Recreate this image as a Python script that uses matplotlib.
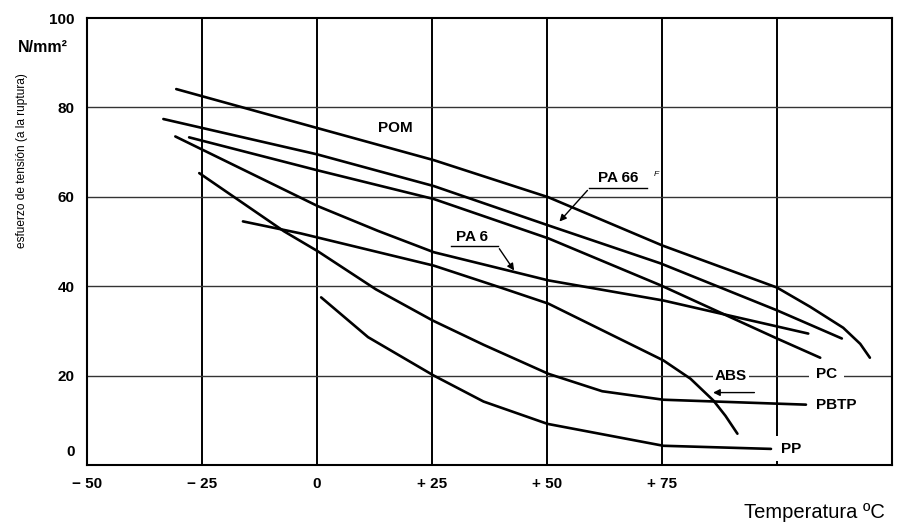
import matplotlib.pyplot as plt

plt.rcParams['font.family'] = ['Liberation Sans', 'DejaVu Sans']

# curves: temperature (C) and tensile stress at break (N/mm2)
pom_t = [-30.6, 0, 25.4, 50.3, 75.1, 100, 107.2, 114.4, 118.1, 120.2]
pom_s = [84.1, 75.4, 68.2, 59.9, 49.1, 39.7, 35.4, 30.7, 27.1, 24.0]

pa66_t = [-33.4, 0, 25.4, 50.3, 74.7, 100, 114.1]
pa66_s = [77.4, 69.5, 62.4, 53.6, 45.1, 34.6, 28.3]

pc_t = [-27.8, 0.2, 25.4, 50.3, 74.7, 100, 109.4]
pc_s = [73.3, 65.9, 59.5, 50.7, 40.2, 28.3, 24.0]

pa6_t = [-30.8, 0.2, 13.2, 25.4, 43.2, 50.3, 75.3, 100, 106.8]
pa6_s = [73.5, 57.9, 52.4, 47.6, 43.1, 41.3, 36.8, 31.0, 29.4]

abs_t = [-16.1, -3.5, 25.4, 39.9, 50.3, 75.3, 81.2, 86.2, 88.8, 91.4]
abs_s = [54.5, 51.8, 44.6, 39.7, 36.1, 23.4, 19.3, 14.4, 11.0, 7.0]

pbtp_t = [-25.6, -7.2, 0.2, 12.8, 25.2, 36.2, 50.3, 62.0, 75.3, 106.3]
pbtp_s = [65.3, 52.3, 47.8, 39.3, 32.3, 26.9, 20.4, 16.5, 14.6, 13.5]

pp_t = [0.9, 11.1, 25.4, 36.2, 50.1, 75.3, 98.7]
pp_s = [37.5, 28.6, 20.0, 14.2, 9.2, 4.3, 3.6]

x_grid = [-25, 0, 25, 50, 75, 100]
y_grid = [20, 40, 60, 80]
x_ticks = [-50, -25, 0, 25, 50, 75]
x_labels = ['\u2212 50', '\u2212 25', '0', '+ 25', '+ 50', '+ 75']
y_ticks = [3.2, 20, 40, 60, 80, 100]
y_labels = ['0', '20', '40', '60', '80', '100']

fig = plt.figure(figsize=(9.14, 5.25), dpi=100)
ax = fig.add_axes([0.0952, 0.1143, 0.8807, 0.8514])
ax.set_xlim(-50, 125)
ax.set_ylim(0, 100)

for v in x_grid:
    ax.axvline(v, color='black', lw=1.4, zorder=1)
for h in y_grid:
    ax.axhline(h, color='#333333', lw=1.0, zorder=1)

for t, s in [(pom_t, pom_s), (pa66_t, pa66_s), (pc_t, pc_s), (pa6_t, pa6_s),
             (abs_t, abs_s), (pbtp_t, pbtp_s), (pp_t, pp_s)]:
    ax.plot(t, s, color='black', lw=1.9, solid_capstyle='round',
            solid_joinstyle='round', zorder=3)

for sp in ax.spines.values():
    sp.set_linewidth(1.5)

ax.set_xticks(x_ticks)
ax.set_xticklabels(x_labels)
ax.set_yticks(y_ticks)
ax.set_yticklabels(y_labels)
ax.tick_params(length=0, labelsize=11, pad=9)
for lab in ax.get_xticklabels() + ax.get_yticklabels():
    lab.set_fontweight('bold')

lab_kw = dict(fontsize=11, fontweight='bold', va='center')
box = dict(facecolor='white', edgecolor='none', pad=1.5)

ax.text(17, 75.5, 'POM', ha='center', zorder=2, **lab_kw)
ax.text(65.5, 64.2, 'PA 66', ha='center', zorder=2, **lab_kw)
ax.text(73.8, 65.0, 'F', fontsize=6, style='italic', ha='center', va='center')
ax.text(33.7, 51.1, 'PA 6', ha='center', zorder=2, **lab_kw)
ax.text(90.0, 20.0, 'ABS', ha='center', bbox=box, zorder=2, **lab_kw)
ax.text(108.5, 20.3, 'PC', ha='left', bbox=dict(facecolor='white', edgecolor='none', pad=5),
        zorder=2, **lab_kw)
ax.text(108.5, 13.4, 'PBTP', ha='left', zorder=2, **lab_kw)
ax.text(100.8, 3.6, 'PP', ha='left', bbox=dict(facecolor='white', edgecolor='none', pad=4),
        zorder=2, **lab_kw)

# leader lines with arrows
ax.plot([59.2, 71.8], [61.9, 61.9], color='black', lw=1.0, zorder=3)
ax.annotate('', xy=(52.3, 54.0), xytext=(59.2, 61.9),
            arrowprops=dict(arrowstyle='-|>', color='black', lw=1.0, mutation_scale=10))
ax.plot([29.1, 39.3], [48.9, 48.9], color='black', lw=1.0, zorder=3)
ax.annotate('', xy=(43.2, 43.0), xytext=(39.3, 48.9),
            arrowprops=dict(arrowstyle='-|>', color='black', lw=1.0, mutation_scale=10))
ax.annotate('', xy=(85.5, 16.2), xytext=(95.7, 16.2),
            arrowprops=dict(arrowstyle='-|>', color='black', lw=1.0, mutation_scale=10))

fig.text(0.0465, 0.910, 'N/mm\u00b2', fontsize=11.5, fontweight='bold', ha='center', va='center')
fig.text(0.024, 0.695, 'esfuerzo de tensi\u00f3n (a la ruptura)', fontsize=8.6,
         rotation=90, ha='center', va='center')
fig.text(0.891, 0.023, 'Temperatura \u00baC', fontsize=14.5, ha='center', va='center')

fig.savefig('out.png', dpi=100)
